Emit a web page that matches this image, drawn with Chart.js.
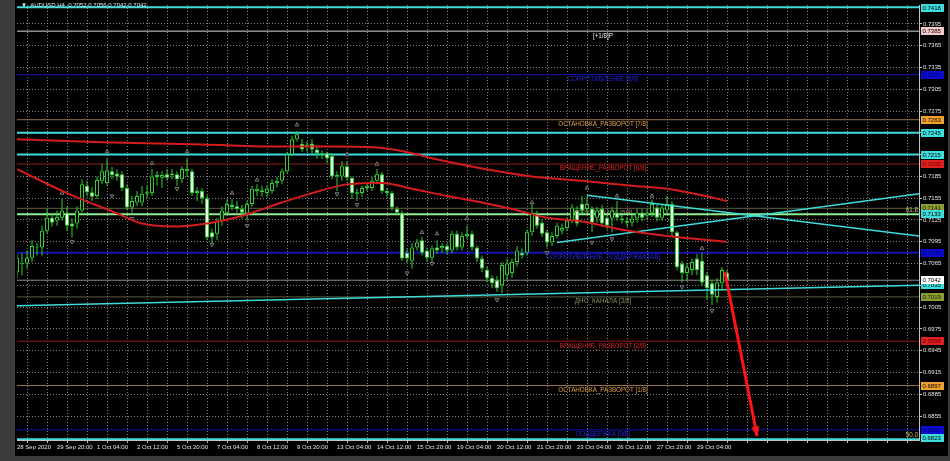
<!DOCTYPE html>
<html>
<head>
<meta charset="utf-8">
<script src="https://cdn.jsdelivr.net/npm/chart.js@4.4.0/dist/chart.umd.min.js"></script>
<style>
html, body { margin: 0; padding: 0; background: #3b3b3b; }
canvas { display: block; }
</style>
</head>
<body>
<canvas id="c" width="950" height="461"></canvas>
<script>
// time axis labels (every 8 bars of H4) and price ticks
var xLabels = ['28 Sep 2020', '29 Sep 20:00', '1 Oct 04:00', '2 Oct 12:00', '5 Oct 20:00', '7 Oct 04:00',
	'8 Oct 12:00', '9 Oct 20:00', '13 Oct 04:00', '14 Oct 12:00', '15 Oct 20:00', '19 Oct 04:00',
	'20 Oct 12:00', '21 Oct 20:00', '23 Oct 04:00', '26 Oct 12:00', '27 Oct 20:00', '29 Oct 04:00'];
var yTicks = [0.6855, 0.6885, 0.6915, 0.6945, 0.6975, 0.7005, 0.7035, 0.7065, 0.7095, 0.7125,
	0.7155, 0.7185, 0.7215, 0.7245, 0.7275, 0.7305, 0.7335, 0.7365, 0.7395];

// AUDUSD H4 candles
var opens = [
	0.7053, 0.7064, 0.7065, 0.7073, 0.7087, 0.7087, 0.7110, 0.7128, 0.7124, 0.7128,
	0.7135, 0.7120, 0.7120, 0.7138, 0.7172, 0.7163, 0.7158, 0.7179, 0.7176, 0.7192,
	0.7189, 0.7188, 0.7169, 0.7142, 0.7149, 0.7149, 0.7161, 0.7162, 0.7187, 0.7183,
	0.7188, 0.7187, 0.7188, 0.7181, 0.7192, 0.7192, 0.7165, 0.7165, 0.7155, 0.7108,
	0.7106, 0.7124, 0.7135, 0.7146, 0.7144, 0.7140, 0.7134, 0.7147, 0.7165, 0.7163,
	0.7162, 0.7165, 0.7176, 0.7179, 0.7192, 0.7215, 0.7236, 0.7230, 0.7226, 0.7230,
	0.7222, 0.7217, 0.7217, 0.7213, 0.7185, 0.7185, 0.7199, 0.7183, 0.7161, 0.7162,
	0.7169, 0.7169, 0.7179, 0.7188, 0.7165, 0.7162, 0.7140, 0.7135, 0.7080, 0.7069,
	0.7087, 0.7097, 0.7083, 0.7073, 0.7087, 0.7086, 0.7089, 0.7083, 0.7106, 0.7087,
	0.7103, 0.7106, 0.7087, 0.7072, 0.7056, 0.7045, 0.7042, 0.7035, 0.7049, 0.7052,
	0.7067, 0.7080, 0.7080, 0.7108, 0.7134, 0.7121, 0.7108, 0.7094, 0.7103, 0.7110,
	0.7114, 0.7124, 0.7138, 0.7147, 0.7140, 0.7140, 0.7128, 0.7140, 0.7128, 0.7127,
	0.7135, 0.7125, 0.7124, 0.7121, 0.7127, 0.7135, 0.7131, 0.7135, 0.7142, 0.7128,
	0.7138, 0.7147, 0.7108, 0.7065, 0.7052, 0.7056, 0.7072, 0.7069, 0.7049, 0.7038,
	0.7019, 0.7038, 0.7052];
var highs = [
	0.7078, 0.7079, 0.7083, 0.7097, 0.7093, 0.7117, 0.7140, 0.7135, 0.7138, 0.7154,
	0.7144, 0.7127, 0.7144, 0.7181, 0.7179, 0.7170, 0.7185, 0.7202, 0.7210, 0.7198,
	0.7195, 0.7192, 0.7174, 0.7158, 0.7165, 0.7172, 0.7172, 0.7195, 0.7192, 0.7192,
	0.7195, 0.7195, 0.7192, 0.7199, 0.7210, 0.7195, 0.7170, 0.7169, 0.7159, 0.7113,
	0.7128, 0.7144, 0.7154, 0.7154, 0.7151, 0.7146, 0.7151, 0.7172, 0.7174, 0.7172,
	0.7173, 0.7181, 0.7184, 0.7196, 0.7219, 0.7241, 0.7247, 0.7236, 0.7233, 0.7236,
	0.7228, 0.7221, 0.7219, 0.7217, 0.7192, 0.7206, 0.7206, 0.7185, 0.7168, 0.7172,
	0.7176, 0.7184, 0.7195, 0.7191, 0.7169, 0.7165, 0.7144, 0.7138, 0.7086, 0.7093,
	0.7099, 0.7102, 0.7087, 0.7090, 0.7097, 0.7093, 0.7093, 0.7110, 0.7110, 0.7108,
	0.7117, 0.7110, 0.7090, 0.7076, 0.7061, 0.7049, 0.7048, 0.7067, 0.7072, 0.7072,
	0.7089, 0.7086, 0.7112, 0.7147, 0.7138, 0.7125, 0.7112, 0.7108, 0.7121, 0.7120,
	0.7129, 0.7147, 0.7144, 0.7158, 0.7158, 0.7144, 0.7143, 0.7146, 0.7132, 0.7143,
	0.7151, 0.7132, 0.7129, 0.7132, 0.7140, 0.7140, 0.7140, 0.7153, 0.7146, 0.7147,
	0.7158, 0.7151, 0.7110, 0.7069, 0.7065, 0.7072, 0.7078, 0.7080, 0.7053, 0.7042,
	0.7045, 0.7060, 0.7056];
var lows = [
	0.7045, 0.7049, 0.7058, 0.7067, 0.7076, 0.7076, 0.7106, 0.7116, 0.7117, 0.7124,
	0.7110, 0.7101, 0.7113, 0.7135, 0.7158, 0.7151, 0.7154, 0.7174, 0.7172, 0.7181,
	0.7179, 0.7165, 0.7138, 0.7135, 0.7144, 0.7144, 0.7155, 0.7158, 0.7172, 0.7169,
	0.7179, 0.7181, 0.7172, 0.7176, 0.7185, 0.7158, 0.7151, 0.7147, 0.7097, 0.7093,
	0.7097, 0.7117, 0.7131, 0.7138, 0.7135, 0.7127, 0.7124, 0.7143, 0.7158, 0.7157,
	0.7157, 0.7161, 0.7170, 0.7174, 0.7189, 0.7213, 0.7233, 0.7219, 0.7219, 0.7217,
	0.7209, 0.7209, 0.7203, 0.7181, 0.7165, 0.7179, 0.7179, 0.7154, 0.7151, 0.7157,
	0.7165, 0.7165, 0.7174, 0.7161, 0.7157, 0.7138, 0.7131, 0.7069, 0.7065, 0.7058,
	0.7083, 0.7076, 0.7067, 0.7067, 0.7078, 0.7080, 0.7078, 0.7079, 0.7083, 0.7083,
	0.7099, 0.7083, 0.7067, 0.7053, 0.7039, 0.7031, 0.7026, 0.7024, 0.7042, 0.7045,
	0.7061, 0.7072, 0.7076, 0.7103, 0.7113, 0.7102, 0.7087, 0.7089, 0.7099, 0.7105,
	0.7110, 0.7120, 0.7116, 0.7134, 0.7135, 0.7108, 0.7121, 0.7116, 0.7112, 0.7108,
	0.7124, 0.7120, 0.7116, 0.7116, 0.7121, 0.7123, 0.7125, 0.7129, 0.7123, 0.7124,
	0.7134, 0.7103, 0.7056, 0.7039, 0.7042, 0.7049, 0.7049, 0.7034, 0.7015, 0.7008,
	0.7011, 0.7028, 0.7042];
var closes = [
	0.7073, 0.7065, 0.7073, 0.7089, 0.7086, 0.7110, 0.7128, 0.7121, 0.7129, 0.7138,
	0.7117, 0.7116, 0.7138, 0.7174, 0.7163, 0.7157, 0.7180, 0.7192, 0.7193, 0.7187,
	0.7185, 0.7169, 0.7142, 0.7151, 0.7158, 0.7161, 0.7163, 0.7185, 0.7184, 0.7187,
	0.7183, 0.7189, 0.7181, 0.7195, 0.7195, 0.7162, 0.7162, 0.7155, 0.7101, 0.7101,
	0.7124, 0.7138, 0.7147, 0.7143, 0.7140, 0.7135, 0.7147, 0.7168, 0.7168, 0.7166,
	0.7168, 0.7176, 0.7179, 0.7192, 0.7215, 0.7236, 0.7243, 0.7222, 0.7229, 0.7222,
	0.7217, 0.7215, 0.7210, 0.7185, 0.7187, 0.7199, 0.7183, 0.7162, 0.7163, 0.7169,
	0.7172, 0.7179, 0.7188, 0.7165, 0.7162, 0.7142, 0.7135, 0.7072, 0.7072, 0.7087,
	0.7094, 0.7080, 0.7073, 0.7086, 0.7083, 0.7089, 0.7083, 0.7106, 0.7087, 0.7103,
	0.7106, 0.7087, 0.7072, 0.7058, 0.7045, 0.7038, 0.7031, 0.7063, 0.7065, 0.7067,
	0.7083, 0.7076, 0.7108, 0.7134, 0.7117, 0.7106, 0.7094, 0.7103, 0.7117, 0.7114,
	0.7124, 0.7142, 0.7120, 0.7138, 0.7147, 0.7121, 0.7138, 0.7120, 0.7117, 0.7138,
	0.7128, 0.7127, 0.7121, 0.7127, 0.7135, 0.7128, 0.7135, 0.7147, 0.7128, 0.7142,
	0.7147, 0.7108, 0.7060, 0.7052, 0.7060, 0.7067, 0.7056, 0.7039, 0.7031, 0.7022,
	0.7039, 0.7056, 0.7042];

// moving averages (bar index, price)
var maSlowIdx = [0, 17, 37, 53, 63, 73, 79, 83, 93, 103, 113, 123, 130, 137, 142];
var maSlow = [0.7236, 0.7232, 0.7229, 0.7226, 0.7226, 0.7224, 0.7217, 0.7210, 0.7196, 0.7185, 0.7179, 0.7172, 0.7168, 0.7159, 0.7151];
var maFastIdx = [0, 10, 20, 25, 32, 38, 43, 47, 53, 59, 66, 73, 79, 86, 93, 99, 106, 113, 120, 130, 142];
var maFast = [0.7195, 0.7162, 0.7134, 0.7120, 0.7116, 0.7120, 0.7127, 0.7135, 0.7149, 0.7162, 0.7174, 0.7176, 0.7168, 0.7158, 0.7149, 0.7140, 0.7128, 0.7123, 0.7113, 0.7103, 0.7095];

// fractals
var fracUpIdx = [9, 18, 27, 34, 43, 48, 56, 66, 72, 81, 84, 90, 103, 114, 120, 127, 137];
var fracUp = [0.7162, 0.7219, 0.7203, 0.7219, 0.7162, 0.7180, 0.7256, 0.7215, 0.7202, 0.7108, 0.7106, 0.7127, 0.7149, 0.7169, 0.7158, 0.7158, 0.7086];
var fracDownIdx = [11, 19, 23, 32, 39, 46, 64, 68, 78, 83, 96, 106, 115, 119, 133, 139];
var fracDown = [0.7095, 0.7158, 0.7127, 0.7168, 0.7091, 0.7117, 0.7161, 0.7146, 0.7052, 0.7065, 0.7015, 0.7080, 0.7094, 0.7099, 0.7033, 0.7000];

// Murrey math levels
var murreyPrices = [0.7385, 0.7325, 0.7263, 0.7202, 0.7141, 0.7080, 0.7019, 0.6958, 0.6897, 0.6836];
var murreyNames = ['[+1/8]P', 'СОПРОТИВЛЕНИЕ [8/8]', 'ОСТАНОВКА_РАЗВОРОТ [7/8]', 'ВРАЩЕНИЕ_РАЗВОРОТ [6/8]',
	'ВЕРХ_КАНАЛА [5/8]', 'СОПРОТИВЛЕНИЕ_ПОДДЕРЖКА [4/8]', 'ДНО_КАНАЛА [3/8]', 'ВРАЩЕНИЕ_РАЗВОРОТ [2/8]',
	'ОСТАНОВКА_РАЗВОРОТ [1/8]', 'ПОДДЕРЖКА [0/8]'];

// other horizontal lines
var cyanLevels = [0.7418, 0.7245, 0.7215, 0.6823];
var fibLevels = [0.7133, 0.6823];
var fibNames = ['61.8', '50.0'];
var bidPrice = 0.7042;

// trend lines (bar index, price)
var channelIdx = [0, 180.4];
var channel = [0.7007, 0.7035];
var triUpperIdx = [114, 180.4];
var triUpper = [0.7159, 0.7103];
var triLowerIdx = [108, 180.4];
var triLower = [0.7094, 0.7161];
var arrowIdx = [141.6, 148];
var arrow = [0.7053, 0.6828];

// ---- styles ----
var XMIN = 0, XMAX = 180.4;
var GREEN = '#2fcf2f', CYAN = '#3fdcdc';
var murreyLine = ['#d8d8d8', '#1414b4', '#9a7446', '#8e1c1c', '#5e5e46', '#1414b4', '#5e5e46', '#8e1c1c', '#9a7446', '#1414b4'];
var murreyWidth = [1, 1, 1, 1, 1, 2, 1, 1, 1, 1];
var murreyText = ['#f0f0f0', '#2424e0', '#e0a048', '#d82424', '#8c8c5c', '#2424e0', '#8c8c5c', '#d82424', '#e0a048', '#2424e0'];
var murreyBox = ['#f4c8c8', '#0c0cd0', '#f0a030', '#e02020', '#8c9c34', '#0c0cd0', '#8c9c34', '#e02020', '#f0a030', '#0c0cd0'];
var murreyBoxText = ['#000', '#000070', '#000', '#600000', '#202000', '#000070', '#202000', '#600000', '#000', '#000070'];
var captionIdx = 117.2;
var FONT = '"Liberation Sans", Arial, sans-serif';

function pts(xs, ys) {
	return xs.map(function(x, k) { return { x: x, y: ys[k] }; });
}

function hLine(price, color, width) {
	return { type: 'line', data: [{ x: XMIN, y: price }, { x: XMAX, y: price }], borderColor: color,
		borderWidth: width, pointRadius: 0, order: 10 };
}

var datasets = [];

// candle bodies and wicks
datasets.push({
	type: 'bar', order: 2, grouped: false, barThickness: 4, borderWidth: 1, borderSkipped: false, inflateAmount: 0,
	data: opens.map(function(o, i) { return { x: i, y: [Math.min(o, closes[i]), Math.max(o, closes[i])] }; }),
	backgroundColor: opens.map(function(o, i) { return closes[i] >= o ? '#000000' : '#eef8ee'; }),
	borderColor: GREEN
});
datasets.push({
	type: 'bar', order: 3, grouped: false, barThickness: 1, borderWidth: 0, inflateAmount: 0,
	data: lows.map(function(l, i) { return { x: i, y: [l, highs[i]] }; }),
	backgroundColor: GREEN
});

// horizontal lines
murreyPrices.forEach(function(p, k) { datasets.push(hLine(p, murreyLine[k], murreyWidth[k])); });
cyanLevels.forEach(function(p) { datasets.push(hLine(p, CYAN, 2)); });
datasets.push(hLine(fibLevels[0], '#90ee90', 2));
datasets.push(hLine(bidPrice, '#8c8c8c', 1));

// moving averages
datasets.push({ type: 'line', order: 1, data: pts(maSlowIdx, maSlow), borderColor: '#d41c1c', borderWidth: 2, pointRadius: 0, cubicInterpolationMode: 'monotone' });
datasets.push({ type: 'line', order: 1, data: pts(maFastIdx, maFast), borderColor: '#d41c1c', borderWidth: 2, pointRadius: 0, cubicInterpolationMode: 'monotone' });

// trend lines
datasets.push({ type: 'line', order: 1, data: pts(channelIdx, channel), borderColor: CYAN, borderWidth: 1.5, pointRadius: 0 });
datasets.push({ type: 'line', order: 1, data: pts(triUpperIdx, triUpper), borderColor: CYAN, borderWidth: 1.5, pointRadius: 0 });
datasets.push({ type: 'line', order: 1, data: pts(triLowerIdx, triLower), borderColor: CYAN, borderWidth: 1.5, pointRadius: 0 });

// fractals
datasets.push({ type: 'line', order: 1, showLine: false, data: pts(fracUpIdx, fracUp), pointStyle: 'triangle',
	pointRadius: 2.2, pointBackgroundColor: '#000', pointBorderColor: '#7c7c7c', pointBorderWidth: 1 });
datasets.push({ type: 'line', order: 1, showLine: false, data: pts(fracDownIdx, fracDown), pointStyle: 'triangle',
	rotation: 180, pointRadius: 2.2, pointBackgroundColor: '#000', pointBorderColor: '#7c7c7c', pointBorderWidth: 1 });

// forecast arrow
var arrowSet = datasets.length;
datasets.push({ type: 'line', order: 0, data: pts(arrowIdx, arrow), borderColor: '#ff1414', borderWidth: 3, pointRadius: 0 });

var xTickIdx = [];
for (var t = 0; t <= 180; t += 4) xTickIdx.push(t);

function priceLabel(ctx, ys, area, price, bg, fg) {
	var y = ys.getPixelForValue(price);
	y = Math.max(area.top + 3, Math.min(area.bottom - 2, y));
	ctx.fillStyle = bg;
	ctx.fillRect(921, Math.round(y - 4), 23, 8);
	ctx.fillStyle = fg;
	ctx.fillText(price.toFixed(4), 922.5, Math.round(y) + 0.5);
}

var overlay = {
	id: 'overlay',
	beforeDraw: function(chart) {
		var ctx = chart.ctx;
		ctx.save();
		ctx.fillStyle = '#3b3b3b';
		ctx.fillRect(0, 0, chart.width, chart.height);
		ctx.fillStyle = '#000000';
		ctx.fillRect(15, 0, 933, 456);
		ctx.restore();
	},
	beforeDatasetsDraw: function(chart) {
		// level captions sit under the candles
		var ctx = chart.ctx, xs = chart.scales.x, ys = chart.scales.y;
		ctx.save();
		ctx.font = '6.3px ' + FONT;
		ctx.textAlign = 'center';
		ctx.textBaseline = 'top';
		murreyNames.forEach(function(name, k) {
			ctx.fillStyle = murreyText[k];
			ctx.fillText(name, xs.getPixelForValue(captionIdx), ys.getPixelForValue(murreyPrices[k]) + 1.5);
		});
		ctx.restore();
	},
	afterDraw: function(chart) {
		var ctx = chart.ctx, xs = chart.scales.x, ys = chart.scales.y, area = chart.chartArea;
		ctx.save();

		// arrow head
		var pts = chart.getDatasetMeta(arrowSet).data;
		var a = pts[0], b = pts[1];
		var ang = Math.atan2(b.y - a.y, b.x - a.x);
		ctx.fillStyle = '#ff1414';
		ctx.beginPath();
		ctx.moveTo(b.x + Math.cos(ang) * 2, b.y + Math.sin(ang) * 2);
		ctx.lineTo(b.x - Math.cos(ang) * 9 + Math.sin(ang) * 4, b.y - Math.sin(ang) * 9 - Math.cos(ang) * 4);
		ctx.lineTo(b.x - Math.cos(ang) * 9 - Math.sin(ang) * 4, b.y - Math.sin(ang) * 9 + Math.cos(ang) * 4);
		ctx.closePath();
		ctx.fill();

		// fibo captions
		ctx.font = '6.3px ' + FONT;
		ctx.textAlign = 'right';
		ctx.textBaseline = 'bottom';
		ctx.fillStyle = '#c8c064';
		fibLevels.forEach(function(p, k) {
			ctx.fillText(fibNames[k], area.right - 1, ys.getPixelForValue(p) - 1);
		});

		// header
		ctx.textAlign = 'left';
		ctx.textBaseline = 'middle';
		ctx.font = '6px ' + FONT;
		ctx.fillStyle = '#d8eef2';
		ctx.fillText('▼  AUDUSD,H4  0.7052 0.7056 0.7042 0.7042', 21, 5.5);

		// price labels on the right scale
		ctx.font = '6px ' + FONT;
		ctx.textBaseline = 'middle';
		murreyPrices.forEach(function(p, k) { priceLabel(ctx, ys, area, p, murreyBox[k], murreyBoxText[k]); });
		cyanLevels.forEach(function(p) { priceLabel(ctx, ys, area, p, CYAN, '#000'); });
		priceLabel(ctx, ys, area, fibLevels[0], CYAN, '#000');
		priceLabel(ctx, ys, area, channel[1], CYAN, '#000');
		priceLabel(ctx, ys, area, bidPrice, '#ffffff', '#000');
		ctx.restore();
	}
};

new Chart(document.getElementById('c').getContext('2d'), {
	type: 'bar',
	data: { datasets: datasets },
	options: {
		responsive: false,
		animation: false,
		events: [],
		layout: { padding: { left: 17, top: 2, right: 2, bottom: 6 } },
		plugins: { legend: { display: false }, tooltip: { enabled: false } },
		scales: {
			x: {
				type: 'linear', min: XMIN, max: XMAX, offset: false,
				afterBuildTicks: function(s) { s.ticks = xTickIdx.map(function(v) { return { value: v }; }); },
				afterFit: function(s) { s.height = 15; },
				ticks: {
					autoSkip: false, maxRotation: 0, minRotation: 0, align: 'start', padding: 1,
					color: '#e6e6e6', font: { family: FONT, size: 6 },
					callback: function(v) { return (v % 8 === 0 && xLabels[v / 8]) ? xLabels[v / 8] : ''; }
				},
				grid: { color: '#808080', lineWidth: 1, tickLength: 3, tickColor: '#bdbdbd' },
				border: { display: true, color: '#c4c4c4', dash: [1, 2] }
			},
			y: {
				type: 'linear', position: 'right', min: 0.6822, max: 0.7421,
				afterBuildTicks: function(s) { s.ticks = yTicks.map(function(v) { return { value: v }; }); },
				afterFit: function(s) { s.width = 29; },
				ticks: {
					padding: 1, color: '#e6e6e6', font: { family: FONT, size: 6 },
					callback: function(v) { return v.toFixed(4); }
				},
				grid: { color: '#808080', lineWidth: 1, tickLength: 3, tickColor: '#bdbdbd' },
				border: { display: true, color: '#c4c4c4', dash: [1, 2] }
			}
		}
	},
	plugins: [overlay]
});
</script>
</body>
</html>
